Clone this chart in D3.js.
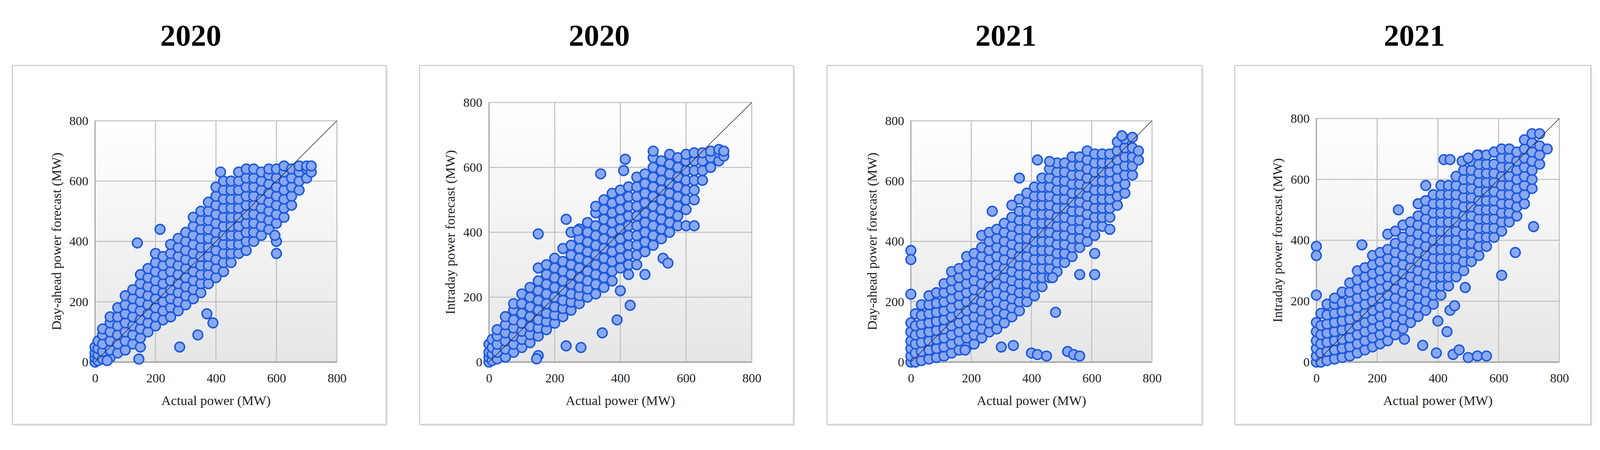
<!DOCTYPE html>
<html><head><meta charset="utf-8">
<script src="https://cdn.jsdelivr.net/npm/d3@7"></script>
<style>html,body{margin:0;padding:0;background:#fff;overflow:hidden}svg{display:block;width:100vw;height:100vh}</style>
</head><body>
<svg id="c" viewBox="0 0 4293 1151" preserveAspectRatio="xMidYMid meet"></svg>
<script>
const titles = ["2020","2020","2021","2021"];
const yTitles = ["Day-ahead power forecast (MW)","Intraday power forecast (MW)","Day-ahead power forecast (MW)","Intraday power forecast (MW)"];
const xTitle = "Actual power (MW)";
const ticks = [0,200,400,600,800];

// rows: [actual, [forecast values...]]
const rows2020DA = [
 [0,[0,15,30,50]],[10,[5,25,45,70]],[25,[10,35,60,90,110]],[50,[15,40,70,100,130,150]],
 [75,[30,60,90,120,150,180]],[100,[40,70,100,130,160,190,220]],[125,[60,90,120,150,180,210,240]],
 [150,[50,80,110,140,170,200,230,260,290]],[175,[100,130,160,190,220,250,280,310]],
 [200,[120,150,180,210,240,270,300,330,360]],[225,[140,170,200,230,260,290,320,350]],
 [250,[150,180,210,240,270,300,330,360,390]],[275,[170,200,230,260,290,320,350,380,410]],
 [300,[190,220,250,280,310,340,370,400,430]],[325,[210,240,270,300,330,360,390,420,450,480]],
 [350,[230,260,290,320,350,380,410,440,470,500]],[375,[260,290,320,350,380,410,440,470,500,530]],
 [400,[280,310,340,370,400,430,460,490,520,550,580]],[425,[300,330,360,390,420,450,480,510,540,570,600]],
 [450,[330,360,390,420,450,480,510,540,570,600]],[475,[360,390,420,450,480,510,540,570,600,630]],
 [500,[370,400,430,460,490,520,550,580,610,640]],[525,[400,430,460,490,520,550,580,610,640]],
 [550,[420,450,480,510,540,570,600,630]],[575,[440,470,500,530,560,590,620,640]],
 [600,[400,460,490,520,550,580,610,640]],[625,[480,510,540,570,600,630,650]],
 [650,[520,550,580,610,640]],[675,[570,600,630,650]],[700,[610,640,650]],[715,[630,650]]
];
const out2020DA = [[140,395],[390,130],[250,150],[215,440],[415,630],[280,50],[340,90],[600,360],[595,420],[370,160],[145,10],[40,5]];

const rows2020ID = [
 [0,[0,15,30,55]],[10,[5,25,45,70]],[25,[10,30,55,80,100]],[50,[15,40,65,90,115,140]],
 [75,[30,55,80,105,130,160,180]],[100,[45,70,95,120,150,180,210]],[125,[60,85,110,140,170,200,230]],
 [150,[20,80,105,130,160,190,220,250,290]],[175,[100,125,150,180,210,240,270,300]],
 [200,[120,145,170,200,230,260,290,320]],[225,[140,165,190,220,250,280,310,350]],
 [250,[160,185,210,240,270,300,330,360,400]],[275,[180,205,230,260,290,320,350,380,410]],
 [300,[200,225,250,280,310,340,370,400,430]],[325,[210,240,270,300,330,360,390,420,460,480]],
 [350,[230,260,290,320,350,380,410,440,470,500]],[375,[250,280,310,340,370,400,430,460,490,520]],
 [400,[220,290,320,350,380,410,440,470,500,530]],[425,[270,300,330,360,390,420,450,480,510,540]],
 [450,[300,330,360,390,420,450,480,510,540,570]],[475,[270,340,370,400,430,460,490,520,550,580]],
 [500,[360,390,420,450,480,510,540,570,600,630]],[525,[380,410,440,470,500,530,560,590,620]],
 [550,[400,430,460,490,520,550,580,610,640]],[575,[420,450,480,510,540,570,600,630]],
 [600,[420,470,500,530,560,590,620,640]],[625,[420,500,530,560,590,620,645]],
 [650,[560,590,620,645]],[675,[600,630,650]],[700,[620,645,655]],[715,[635,650]]
];
const out2020ID = [[150,395],[235,440],[340,580],[415,625],[410,590],[390,130],[345,90],[280,45],[235,50],[145,10],[530,320],[545,305],[430,175],[270,405],[500,650]];

const rows2021DA = [
 [0,[0,20,45,70,100,130]],[15,[0,30,60,90,120,160]],[35,[5,35,65,95,125,155,190]],
 [60,[10,40,70,100,130,160,190,220]],[85,[15,45,75,105,135,165,195,230]],
 [110,[20,50,80,110,140,170,200,230,260]],[135,[30,60,90,120,150,180,210,240,270,300]],
 [160,[40,70,100,130,160,190,220,250,280,310]],[185,[50,80,110,140,170,200,230,260,290,320,350]],
 [210,[60,90,120,150,180,210,240,270,300,330,360]],[235,[80,110,140,170,200,230,260,290,320,350,380,420]],
 [260,[100,130,160,190,220,250,280,310,340,370,400,430]],[285,[110,140,170,200,230,260,290,320,350,380,410,440]],
 [310,[130,160,190,220,250,280,310,340,370,400,430,460]],[335,[150,180,210,240,270,300,330,360,390,420,450,480,520]],
 [360,[170,200,230,260,290,320,350,380,410,440,470,500,540]],[385,[200,230,260,290,320,350,380,410,440,470,500,530,560]],
 [410,[220,250,280,310,340,370,400,430,460,490,520,550,580]],[435,[250,280,310,340,370,400,430,460,490,520,550,580,610]],
 [460,[280,310,340,370,400,430,460,490,520,550,580,610,640]],[485,[300,330,360,390,420,450,480,510,540,570,600,630,660]],
 [510,[330,360,390,420,450,480,510,540,570,600,630,660]],[535,[350,380,410,440,470,500,530,560,590,620,650,680]],
 [560,[380,410,440,470,500,530,560,590,620,650,680]],[585,[400,430,460,490,520,550,580,610,640,670,700]],
 [610,[420,450,480,510,540,570,600,630,660,690]],[635,[450,480,510,540,570,600,630,660,690]],
 [660,[480,510,540,570,600,630,660,690]],[685,[520,550,580,610,640,670,700,730]],
 [710,[560,590,620,650,680,710,740]],[735,[620,650,680,710,745]],[755,[670,700]]
];
const out2021DA = [[0,370],[0,340],[0,225],[560,290],[470,280],[480,165],[610,360],[660,440],[520,35],[540,25],[560,20],[400,30],[420,25],[450,20],[300,50],[340,55],[180,40],[360,610],[420,670],[460,665],[700,750],[270,500],[610,290]];

const rows2021ID = [
 [0,[0,20,45,70,100,130]],[15,[0,30,60,90,120,160]],[35,[5,35,65,95,125,155,190]],
 [60,[10,40,70,100,130,160,190,210]],[85,[15,45,75,105,135,165,195,230]],
 [110,[20,50,80,110,140,170,200,230,260]],[135,[30,60,90,120,150,180,210,240,270,300]],
 [160,[40,70,100,130,160,190,220,250,280,310]],[185,[50,80,110,140,170,200,230,260,290,320,350]],
 [210,[60,90,120,150,180,210,240,270,300,330,360]],[235,[70,100,130,160,190,220,250,280,310,340,370,420]],
 [260,[90,120,150,180,210,240,270,300,330,360,390,430]],[285,[110,140,170,200,230,260,290,320,350,380,410,450]],
 [310,[130,160,190,220,250,280,310,340,370,400,430,460]],[335,[150,180,210,240,270,300,330,360,390,420,450,480,520]],
 [360,[170,200,230,260,290,320,350,380,410,440,470,500,530]],[385,[190,220,250,280,310,340,370,400,430,460,490,520,550]],
 [410,[220,250,280,310,340,370,400,430,460,490,520,550,580]],[435,[250,280,310,340,370,400,430,460,490,520,550,580]],
 [460,[280,310,340,370,400,430,460,490,520,550,580,610]],[485,[300,330,360,390,420,450,480,510,540,570,600,630]],
 [510,[330,360,390,420,450,480,510,540,570,600,630,660]],[535,[350,380,410,440,470,500,530,560,590,620,650,680]],
 [560,[380,410,440,470,500,530,560,590,620,650,680]],[585,[410,440,470,500,530,560,590,620,650,690]],
 [610,[430,460,490,520,550,580,610,640,670,700]],[635,[460,490,520,550,580,610,640,670,700]],
 [660,[480,510,540,570,600,630,660,690]],[685,[520,550,580,610,640,670,700,730]],
 [710,[570,600,630,660,690,720,750]],[735,[650,680,710,750]],[760,[700]]
];
const out2021ID = [[0,380],[0,350],[0,220],[150,385],[610,285],[655,360],[715,445],[490,245],[400,135],[430,100],[440,170],[455,185],[500,15],[530,20],[560,20],[450,25],[470,40],[395,30],[350,55],[290,75],[420,665],[440,665],[480,660],[500,670],[530,680],[270,500],[360,580]];

const panels = [
 {rows:rows2020DA,out:out2020DA,box:[33,148,1036,1110],plot:[255,296,904,943],tx:512},
 {rows:rows2020ID,out:out2020ID,box:[1126,148,2129,1110],plot:[1312,247,2017,943],tx:1608},
 {rows:rows2021DA,out:out2021DA,box:[2219,148,3225,1110],plot:[2444,296,3091,943],tx:2699},
 {rows:rows2021ID,out:out2021ID,box:[3313,148,4268,1110],plot:[3532,290,4184,943],tx:3795}
];

const svg = d3.select("#c");
const defs = svg.append("defs");
const g0 = defs.append("linearGradient").attr("id","bg").attr("x1",0).attr("y1",0).attr("x2",0).attr("y2",1);
g0.append("stop").attr("offset","0%").attr("stop-color","#ffffff");
g0.append("stop").attr("offset","100%").attr("stop-color","#e6e6e6");
const serif = "'Liberation Serif','DejaVu Serif',serif";

panels.forEach((p,i)=>{
  const [bx0,by0,bx1,by1]=p.box, [px0,py0,px1,py1]=p.plot;
  svg.append("rect").attr("x",bx0+4).attr("y",by0+4).attr("width",bx1-bx0).attr("height",by1-by0).attr("fill","#e4e4e4");
  svg.append("rect").attr("x",bx0).attr("y",by0).attr("width",bx1-bx0).attr("height",by1-by0).attr("fill","#fff").attr("stroke","#cfcfcf").attr("stroke-width",3);
  svg.append("text").attr("x",p.tx).attr("y",95).attr("text-anchor","middle").attr("font-family",serif).attr("font-weight","bold").attr("font-size",82).text(titles[i]);
  const x=d3.scaleLinear().domain([0,800]).range([px0,px1]);
  const y=d3.scaleLinear().domain([0,800]).range([py1,py0]);
  const g=svg.append("g");
  g.append("rect").attr("x",px0).attr("y",py0).attr("width",px1-px0).attr("height",py1-py0).attr("fill","url(#bg)");
  g.selectAll(".gx").data(ticks).join("line").attr("x1",d=>x(d)).attr("x2",d=>x(d)).attr("y1",py0).attr("y2",py1).attr("stroke","#c4c4c4").attr("stroke-width",3);
  g.selectAll(".gy").data(ticks).join("line").attr("y1",d=>y(d)).attr("y2",d=>y(d)).attr("x1",px0).attr("x2",px1).attr("stroke","#c4c4c4").attr("stroke-width",3);
  g.append("line").attr("x1",x(0)).attr("x2",x(800)).attr("y1",y(0)).attr("y2",y(0)).attr("stroke","#a8a8a8").attr("stroke-width",4);
  g.append("line").attr("x1",x(0)).attr("x2",x(0)).attr("y1",y(0)).attr("y2",y(800)).attr("stroke","#a8a8a8").attr("stroke-width",3);
  const xa=d3.axisBottom(x).tickValues(ticks).tickSize(0).tickPadding(30);
  const ya=d3.axisLeft(y).tickValues(ticks).tickSize(0).tickPadding(18);
  const gx=g.append("g").attr("transform",`translate(0,${py1})`).call(xa);
  const gy=g.append("g").attr("transform",`translate(${px0},0)`).call(ya);
  [gx,gy].forEach(a=>{a.select(".domain").remove();a.selectAll("text").attr("font-family",serif).attr("font-size",34).attr("fill","#222");});
  const pts=[];
  p.rows.forEach(([a,ys])=>ys.forEach(v=>pts.push([a,v])));
  p.out.forEach(d=>pts.push(d));
  g.selectAll("circle").data(pts).join("circle").attr("cx",d=>x(d[0])).attr("cy",d=>y(d[1])).attr("r",13)
    .attr("fill","#8aa8f0").attr("stroke","#1f5bdc").attr("stroke-width",4);
  g.append("line").attr("x1",x(0)).attr("y1",y(0)).attr("x2",x(800)).attr("y2",y(800)).attr("stroke","#222").attr("stroke-width",1.5);
  svg.append("text").attr("x",(px0+px1)/2).attr("y",py1+115).attr("text-anchor","middle").attr("font-family",serif).attr("font-size",36).attr("fill","#222").text(xTitle);
  svg.append("text").attr("transform",`translate(${px0-92},${(py0+py1)/2}) rotate(-90)`).attr("text-anchor","middle").attr("font-family",serif).attr("font-size",36).attr("fill","#222").text(yTitles[i]);
});
</script>
</body></html>
